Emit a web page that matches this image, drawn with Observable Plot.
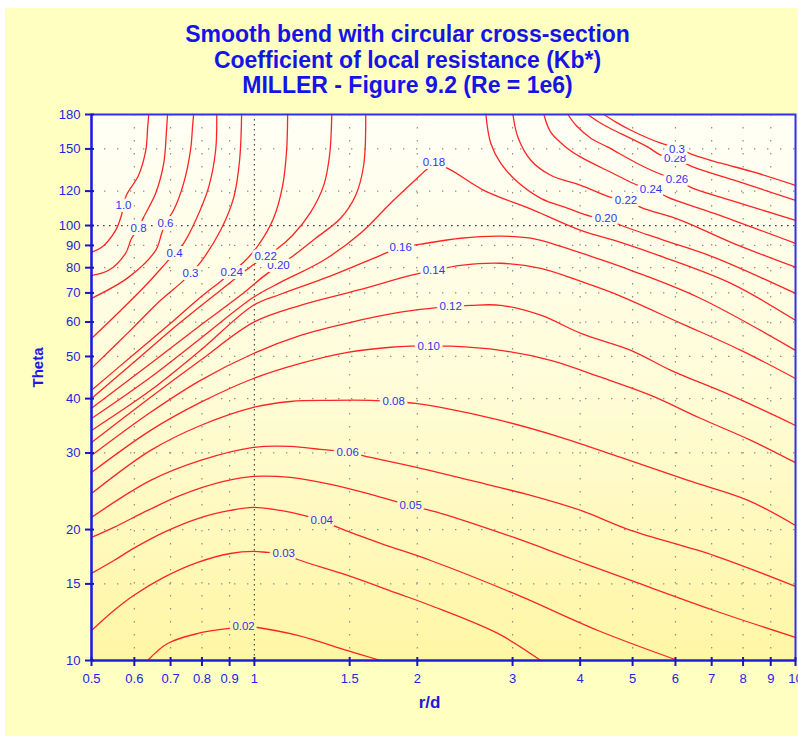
<!DOCTYPE html>
<html><head><meta charset="utf-8">
<script src="https://cdn.jsdelivr.net/npm/d3@7"></script>
<script src="https://cdn.jsdelivr.net/npm/@observablehq/plot@0.6"></script>
<style>
html,body{margin:0;padding:0;background:#fff;overflow:hidden;}
#panel{position:absolute;left:5px;top:8px;width:793px;height:728px;background:#ffffc2;}
#title{position:absolute;left:0;top:22px;width:815px;text-align:center;font:bold 23px "Liberation Sans",Arial,sans-serif;color:#1414e6;line-height:25.5px;}
#chart{position:absolute;left:0;top:100px;}
</style></head><body>
<div id="panel"></div>
<div id="title">Smooth bend with circular cross-section<br>Coefficient of local resistance (Kb*)<br>MILLER - Figure 9.2 (Re = 1e6)</div>
<div id="chart"></div>
<script>
// ---- axis ticks ----
const xTicks = [0.5,0.6,0.7,0.8,0.9,1,1.5,2,3,4,5,6,7,8,9,10];
const yTicks = [10,15,20,30,40,50,60,70,80,90,100,120,150,180];
const xGrid = [0.6,0.7,0.8,0.9,1.5,2,3,4,5,6,7,8,9];
const yGrid = [15,20,30,40,50,60,70,80,90,120,150];
const xRef = [1];
const yRef = [100];

// ---- contour lines: [r/d, theta] ----
const c1_0 = [[0.500,86.8],[0.522,89.1],[0.554,97.5],[0.568,105.6],[0.573,111.3],[0.580,117.4],[0.611,130.5],[0.630,149.0],[0.635,168.3],[0.638,180]];
const c0_8 = [[0.500,76.8],[0.538,78.9],[0.578,86.3],[0.593,93.5],[0.611,98.6],[0.624,104.4],[0.657,118.6],[0.680,139.1],[0.688,165.6],[0.691,180]];
const c0_6 = [[0.500,68.0],[0.585,76.0],[0.657,87.7],[0.674,96.0],[0.685,101.2],[0.709,108.4],[0.740,125.0],[0.762,149.0],[0.769,170.0],[0.772,180]];
const c0_4 = [[0.500,55.0],[0.566,63.8],[0.630,72.9],[0.688,82.3],[0.712,86.3],[0.740,91.0],[0.779,102.8],[0.823,122.4],[0.848,149.0],[0.852,180]];
const c0_3L = [[0.500,46.95],[0.590,57.4],[0.671,67.3],[0.737,74.4],[0.762,77.7],[0.795,82.3],[0.866,97.5],[0.916,116.1],[0.939,141.3],[0.947,180]];
const c0_24L = [[0.500,41.8],[0.590,49.8],[0.700,59.6],[0.795,68.4],[0.866,74.4],[0.908,78.1],[0.955,82.3],[1.017,90.1],[1.085,103.9],[1.128,123.7],[1.147,149.0],[1.152,180]];
const c0_22L = [[0.500,40.05],[0.616,50.0],[0.730,59.9],[0.866,71.0],[0.992,81.0],[1.049,85.0],[1.099,88.2],[1.177,95.0],[1.270,107.2],[1.343,123.7],[1.377,145.1],[1.390,180]];
const c0_20L = [[0.500,38.0],[0.643,48.2],[0.795,59.0],[0.943,69.1],[1.040,76.4],[1.108,81.0],[1.177,85.0],[1.298,93.5],[1.443,103.9],[1.539,117.4],[1.592,137.6],[1.606,180]];
const c0_18 = [[0.500,36.0],[0.643,44.8],[0.795,55.0],[0.996,68.4],[1.117,74.0],[1.343,83.2],[1.571,96.0],[1.785,112.5],[1.962,125.7],[2.074,134.0],[2.146,138.3],[2.277,135.4],[2.655,120.5],[3.286,108.4],[4.011,97.5],[4.755,91.5],[5.716,84.5],[7.598,73.6],[10,60.55]];
const c0_16 = [[0.500,33.8],[0.643,41.8],[0.795,51.65],[0.996,65.55],[1.117,69.5],[1.377,76.4],[1.711,85.4],[1.863,89.1],[2.029,90.6],[2.406,93.5],[2.852,94.5],[3.242,93.5],[3.683,89.6],[4.242,84.5],[4.963,78.9],[6.605,68.4],[10,51.65]];
const c0_14 = [[0.500,31.7],[0.643,40.3],[0.795,49.0],[0.996,59.9],[1.217,65.55],[1.552,71.0],[1.944,76.8],[2.146,78.9],[2.406,81.0],[2.852,81.9],[3.383,79.7],[4.011,74.4],[4.619,69.8],[6.141,59.6],[7.930,51.65],[10,44.5]];
const c0_12 = [[0.500,29.6],[0.643,37.2],[0.795,44.06],[0.996,50.8],[1.217,55.9],[1.506,59.9],[1.863,63.2],[2.117,64.5],[2.305,65.2],[2.511,65.55],[2.852,65.55],[3.383,62.2],[4.011,56.5],[4.963,51.65],[5.885,46.46],[7.598,40.7],[10,34.7]];
const c0_10 = [[0.500,27.06],[0.643,33.81],[0.795,39.2],[0.996,44.5],[1.217,48.2],[1.487,51.1],[1.785,52.5],[1.944,52.8],[2.100,52.8],[2.305,52.8],[2.852,51.65],[3.529,48.99],[4.367,44.8],[5.404,40.7],[6.687,36.0],[8.274,32.07],[10,28.5]];
const c0_08 = [[0.500,24.2],[0.643,30.41],[0.795,34.7],[0.996,38.2],[1.166,39.4],[1.383,39.63],[1.639,39.63],[1.809,39.4],[1.987,39.0],[2.21,38.2],[2.852,35.65],[3.683,32.6],[4.755,29.3],[6.33,25.94],[8.173,23.34],[10,20.44]];
const c0_06 = [[0.500,21.33],[0.643,25.94],[0.795,28.84],[0.996,30.9],[1.166,31.06],[1.325,30.57],[1.487,30.09],[1.639,29.3],[2.029,27.65],[2.511,25.94],[3.242,23.97],[4.011,22.13],[4.963,19.91],[7.073,17.43],[10,14.8]];
const c0_05 = [[0.500,19.18],[0.550,20.23],[0.635,22.13],[0.730,23.97],[0.877,25.8],[0.996,26.5],[1.166,26.35],[1.383,25.4],[1.639,24.1],[1.944,22.7],[2.21,21.8],[3.017,19.18],[3.844,17.16],[4.963,15.28],[7.073,13.03],[10,11.30]];
const c0_04 = [[0.500,15.86],[0.550,16.98],[0.598,18.10],[0.680,19.7],[0.786,21.2],[0.903,22.13],[0.996,22.5],[1.117,22.13],[1.254,21.44],[1.332,20.99],[1.426,20.23],[1.711,18.59],[2.117,16.98],[3.017,14.26],[4.314,11.72],[6.065,10]];
const c0_03 = [[0.500,11.72],[0.550,13.03],[0.598,14.11],[0.680,15.53],[0.786,16.81],[0.903,17.62],[0.996,17.81],[1.057,17.72],[1.133,17.62],[1.202,17.07],[1.487,15.69],[1.840,14.26],[2.117,13.38],[2.817,11.54],[3.383,10]];
const c0_02 = [[0.635,10],[0.691,10.94],[0.786,11.54],[0.892,11.84],[0.955,11.97],[1.013,11.91],[1.202,11.42],[1.487,10.54],[1.712,10]];
const c0_20R = [[2.678,180],[2.734,154.6],[2.852,139.1],[3.069,125.7],[3.383,115.5],[3.797,109.5],[4.186,105.0],[4.464,103.9],[4.755,100.15],[5.716,92.5],[7.073,84.5],[10,69.8]];
const c0_22R = [[3.005,180],[3.069,159.6],[3.242,141.3],[3.529,130.5],[4.011,123.7],[4.557,116.1],[4.902,114.3],[5.179,110.1],[6.141,102.8],[7.598,91.5],[10,80.2]];
const c0_24R = [[3.428,180],[3.529,163.9],[3.765,151.4],[4.011,143.6],[4.557,132.6],[5.116,123.7],[5.454,121.1],[5.813,116.1],[7.073,106.7],[10,91.0]];
const c0_26 = [[3.797,180],[3.929,170.0],[4.186,158.8],[4.501,151.4],[5.179,137.6],[5.639,131.2],[6.015,128.4],[6.408,122.4],[7.598,114.3],[10,102.8]];
const c0_28 = [[4.134,180],[4.367,171.8],[4.619,165.6],[5.338,151.4],[5.639,145.1],[6.015,142.0],[6.495,136.1],[7.702,127.1],[10,114.3]];
const c0_30R = [[4.426,180],[4.658,172.9],[4.963,165.6],[5.639,154.6],[6.065,150.6],[6.495,145.1],[7.282,139.1],[8.387,132.6],[10,123.7]];

const contours = [
  ["1.0",c1_0],["0.8",c0_8],["0.6",c0_6],["0.4",c0_4],["0.3L",c0_3L],["0.24L",c0_24L],
  ["0.22L",c0_22L],["0.20L",c0_20L],["0.18",c0_18],["0.16",c0_16],["0.14",c0_14],
  ["0.12",c0_12],["0.10",c0_10],["0.08",c0_08],["0.06",c0_06],["0.05",c0_05],
  ["0.04",c0_04],["0.03",c0_03],["0.02",c0_02],["0.20R",c0_20R],["0.22R",c0_22R],
  ["0.24R",c0_24R],["0.26",c0_26],["0.28",c0_28],["0.3R",c0_30R]
];

// ---- contour labels: [text, r/d, theta] ----
const contourLabels = [
  ["1.0",0.573,111.3],["0.8",0.611,98.6],["0.6",0.685,101.2],["0.4",0.712,86.3],
  ["0.3",0.762,77.7],["0.24",0.908,78.1],["0.20",1.108,81.0],["0.22",1.049,85.0],
  ["0.18",2.146,139.8],["0.16",1.863,89.1],["0.14",2.146,78.9],["0.12",2.305,65.2],
  ["0.10",2.100,52.8],["0.08",1.809,39.4],["0.06",1.487,30.09],["0.05",1.944,22.7],
  ["0.04",1.332,20.99],["0.03",1.133,17.62],["0.02",0.955,11.97],
  ["0.20",4.464,103.9],["0.22",4.861,114.3],["0.24",5.408,121.1],["0.26",6.04,127.8],
  ["0.28",5.99,142.8],["0.3",6.04,149.8]
];

const lineRows = contours.flatMap(([id, pts]) => pts.map(([r, theta]) => ({id, r, theta})));

const bgStops = ["#fffff6", "#fffcd8", "#fff6a4"];
const bgInterp = d3.piecewise(d3.interpolateRgb, bgStops);
const lt0 = Math.log(180), lt1 = Math.log(10);
const halo = th => d3.color(bgInterp((lt0 - Math.log(th)) / (lt0 - lt1))).formatHex();

const blue = "#2424e0";
const FONT = "'Liberation Sans', Arial, Helvetica, sans-serif";

const svg = Plot.plot({
  width: 798, height: 636,
  marginLeft: 91, marginRight: 3, marginTop: 14, marginBottom: 76,
  x: {type: "log", domain: [0.5, 10], axis: null},
  y: {type: "log", domain: [10, 180], axis: null},
  color: {type: "identity"},
  style: {background: "transparent", fontFamily: FONT, overflow: "visible"},
  marks: [
    Plot.frame({fill: "url(#plotbg)"}),
    Plot.ruleX(xGrid, {x: d => d, stroke: "#8c8c8c", strokeWidth: 1.2, strokeDasharray: "1.4,11.6"}),
    Plot.ruleY(yGrid, {y: d => d, stroke: "#8c8c8c", strokeWidth: 1.2, strokeDasharray: "1.4,11.6"}),
    Plot.ruleX(xRef, {x: d => d, stroke: "#505050", strokeWidth: 1.2, strokeDasharray: "1.6,3.4"}),
    Plot.ruleY(yRef, {y: d => d, stroke: "#404040", strokeWidth: 1.2, strokeDasharray: "1.6,4.4"}),
    Plot.line(lineRows, {x: "r", y: "theta", z: "id", stroke: "#ff2424", strokeWidth: 1.3, curve: "catmull-rom"}),
    Plot.text(contourLabels, {x: d => d[1], y: d => d[2], text: d => d[0], fill: "#3232f2",
      stroke: d => halo(d[2]), strokeWidth: 6, fontSize: 11.5}),
    Plot.frame({stroke: "#3030f5", strokeWidth: 2}),
    Plot.ruleX([0.5], {x: d => d, stroke: "#1c1cdc", strokeWidth: 2.2}),
    Plot.ruleY([10], {y: d => d, stroke: "#1c1cdc", strokeWidth: 2.2}),
    Plot.ruleX(xTicks, {x: d => d, y1: 10, y2: 10, insetTop: 6, insetBottom: 3, stroke: "#1818c0", strokeWidth: 2}),
    Plot.ruleY(yTicks, {y: d => d, x1: 0.5, x2: 0.5, insetLeft: 3, insetRight: 6, stroke: "#1818c0", strokeWidth: 2}),
    Plot.text(xTicks, {x: d => d, y: 10, text: d => String(d), dy: 18, fontSize: 13, fill: blue}),
    Plot.text(yTicks, {x: 0.5, y: d => d, text: d => String(d), dx: -11, textAnchor: "end", fontSize: 13, fill: blue}),
    Plot.text(["Theta"], {text: d => d, frameAnchor: "left", dx: -53, rotate: -90, fontSize: 15, fontWeight: "bold", fill: "#1a1ae6"}),
    Plot.text(["r/d"], {text: d => d, frameAnchor: "bottom", dx: -14, dy: 47, fontSize: 17, fontWeight: "bold", fill: "#1a1ae6"})
  ]
});

const defs = document.createElementNS("http://www.w3.org/2000/svg", "defs");
defs.innerHTML = `<linearGradient id="plotbg" x1="0" y1="0" x2="0" y2="1">
  <stop offset="0" stop-color="${bgStops[0]}"/><stop offset="0.5" stop-color="${bgStops[1]}"/><stop offset="1" stop-color="${bgStops[2]}"/>
</linearGradient>`;
svg.insertBefore(defs, svg.firstChild);
document.getElementById("chart").appendChild(svg);
</script>
</body></html>
